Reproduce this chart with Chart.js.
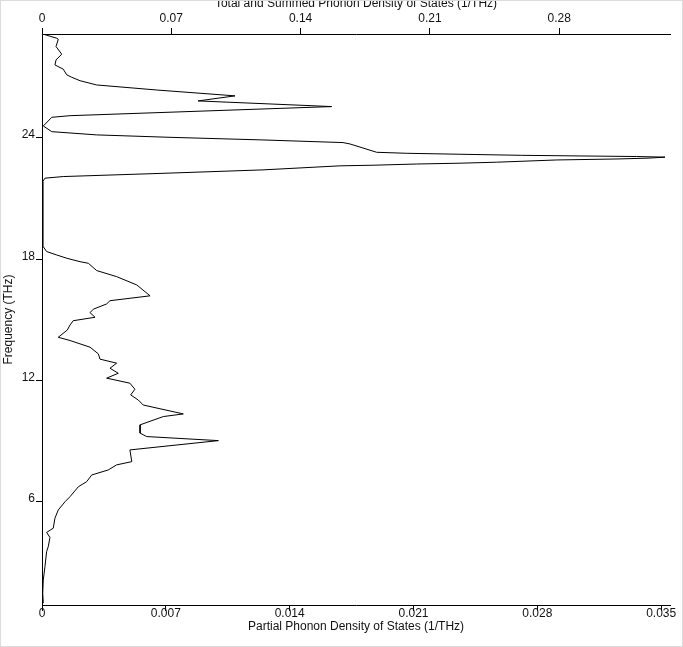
<!DOCTYPE html>
<html>
<head>
<meta charset="utf-8">
<script src="https://cdn.jsdelivr.net/npm/chart.js@4.4.1/dist/chart.umd.min.js"></script>
<style>
  html, body { margin: 0; padding: 0; background: #fff; }
  #wrap { width: 683px; height: 647px; }
</style>
</head>
<body>
<div id="wrap"><canvas id="dos" width="683" height="647"></canvas></div>
<script>
// Frequency (THz) of each sample, read top to bottom off the picture
const freqTHz = [
  29.14, 28.93, 28.88, 28.52, 28.14, 27.86, 27.61, 27.40, 27.12, 27.00,
  26.83, 26.62, 26.37, 26.08, 25.83, 25.58, 25.55, 25.10, 25.02, 24.59,
  24.31, 24.15, 24.03, 23.90, 23.77, 23.70, 23.29, 23.24, 23.19, 23.14,
  23.11, 23.08, 23.05, 23.00, 22.96, 22.91, 22.80, 22.75, 22.71, 22.65,
  22.62, 22.42, 22.25, 22.09, 22.01, 21.84,
  18.66, 18.38, 18.21, 18.05, 17.88, 17.80, 17.44, 17.14, 16.73, 16.19,
  15.95, 15.79, 15.53, 15.36, 15.13, 14.96, 14.75, 14.50, 14.14, 13.98,
  13.65, 13.32, 13.06, 12.86, 12.61, 12.36, 12.12, 11.87, 11.57, 11.29,
  11.04, 10.79, 10.35, 10.22, 9.81, 9.40, 9.23, 9.03, 8.57, 7.99,
  7.83, 7.58, 7.33, 7.00, 6.75, 6.26, 6.01, 5.60, 5.19, 4.70,
  4.49, 4.24, 3.79, 3.54, 2.80, 2.14, 1.48, 0.99
]

// Total density of states (1/THz), same order as freqTHz
const totalDos = [
  0.0004, 0.0080, 0.0088, 0.0076, 0.0107, 0.0076, 0.0070, 0.0115, 0.0134, 0.0161,
  0.0206, 0.0296, 0.0621, 0.1045, 0.0845, 0.1494, 0.1568, 0.0152, 0.0053, 0.0007,
  0.0053, 0.0296, 0.0693, 0.1196, 0.1630, 0.1668, 0.1812, 0.1975, 0.2279, 0.2597,
  0.2902, 0.3219, 0.3373, 0.3281, 0.3118, 0.2787, 0.2462, 0.2263, 0.2029, 0.1792,
  0.1613, 0.1196, 0.0655, 0.0115, 0.0016, 0.0004,
  0.0004, 0.0025, 0.0080, 0.0134, 0.0206, 0.0251, 0.0296, 0.0404, 0.0513, 0.0585,
  0.0368, 0.0350, 0.0278, 0.0260, 0.0287, 0.0169, 0.0152, 0.0137, 0.0088, 0.0152,
  0.0260, 0.0305, 0.0314, 0.0404, 0.0368, 0.0413, 0.0350, 0.0476, 0.0503, 0.0480,
  0.0521, 0.0548, 0.0765, 0.0657, 0.0531, 0.0531, 0.0567, 0.0955, 0.0476, 0.0486,
  0.0404, 0.0359, 0.0269, 0.0242, 0.0197, 0.0152, 0.0125, 0.0088, 0.0070, 0.0061,
  0.0025, 0.0043, 0.0034, 0.0025, 0.0016, 0.0007, 0.0004, 0.0007
]

const topTicks = [0, 0.07, 0.14, 0.21, 0.28]
const bottomTicks = [0, 0.007, 0.014, 0.021, 0.028, 0.035]
const freqTicks = [6, 12, 18, 24]

const FONT = "'Liberation Sans', Arial, sans-serif"
const INK = '#111'

const fmt = v => String(parseFloat(Number(v).toFixed(4)))
const setTicks = list => scale => { scale.ticks = list.map(value => ({ value })) }

// white page with the thin grey frame round it
const framePlugin = {
  id: 'frame',
  beforeDraw(chart) {
    const { ctx, width, height } = chart
    ctx.save()
    ctx.fillStyle = '#fff'
    ctx.fillRect(0, 0, width, height)
    ctx.restore()
  },
  afterDraw(chart) {
    const { ctx, width, height } = chart
    ctx.save()
    ctx.strokeStyle = '#dcdcdc'
    ctx.lineWidth = 1
    ctx.strokeRect(0.5, 0.5, width - 1, height - 1)
    ctx.restore()
  }
}

const axisBase = {
  type: 'linear',
  grid: { drawOnChartArea: false, drawTicks: true, tickLength: 6, color: '#000', lineWidth: 1 },
  border: { display: true, color: '#000', width: 1 }
}

new Chart(document.getElementById('dos'), {
  type: 'scatter',
  data: {
    datasets: [{
      label: 'Total DOS',
      data: freqTHz.map((f, i) => ({ x: totalDos[i], y: f })),
      xAxisID: 'x',
      yAxisID: 'y',
      showLine: true,
      borderColor: '#000',
      borderWidth: 1,
      pointRadius: 0,
      tension: 0,
      fill: false
    }]
  },
  options: {
    responsive: false,
    animation: false,
    events: [],
    layout: { padding: { left: 0, top: 0, right: 13, bottom: 0 } },
    plugins: { legend: { display: false }, tooltip: { enabled: false } },
    scales: {
      x: {
        ...axisBase,
        position: 'top',
        min: 0,
        max: 0.34,
        afterBuildTicks: setTicks(topTicks),
        afterFit: s => { s.height = 34 },
        ticks: { color: INK, font: { family: FONT, size: 12 }, padding: 2, maxRotation: 0, autoSkip: false, callback: fmt },
        title: {
          display: true,
          text: 'Total and Summed Phonon Density of States (1/THz)',
          color: INK,
          font: { family: FONT, size: 12, lineHeight: 1 },
          padding: { top: -2, bottom: 0 }
        }
      },
      xb: {
        ...axisBase,
        position: 'bottom',
        min: 0,
        max: 0.0355,
        afterBuildTicks: setTicks(bottomTicks),
        afterFit: s => { s.height = 42 },
        ticks: { color: INK, font: { family: FONT, size: 12 }, padding: -5, maxRotation: 0, autoSkip: false, callback: fmt },
        title: {
          display: true,
          text: 'Partial Phonon Density of States (1/THz)',
          color: INK,
          font: { family: FONT, size: 12, lineHeight: 1 },
          padding: { top: 0, bottom: 14 }
        }
      },
      y: {
        ...axisBase,
        position: 'left',
        min: 0.9,
        max: 29.14,
        afterBuildTicks: setTicks(freqTicks),
        afterFit: s => { s.width = 42 },
        ticks: { color: INK, font: { family: FONT, size: 12 }, padding: 1, labelOffset: -3, autoSkip: false, callback: fmt },
        title: {
          display: true,
          text: 'Frequency (THz)',
          color: INK,
          font: { family: FONT, size: 12, lineHeight: 1 },
          padding: { top: 3, bottom: 0 }
        }
      }
    }
  },
  plugins: [framePlugin]
})
</script>
</body>
</html>
